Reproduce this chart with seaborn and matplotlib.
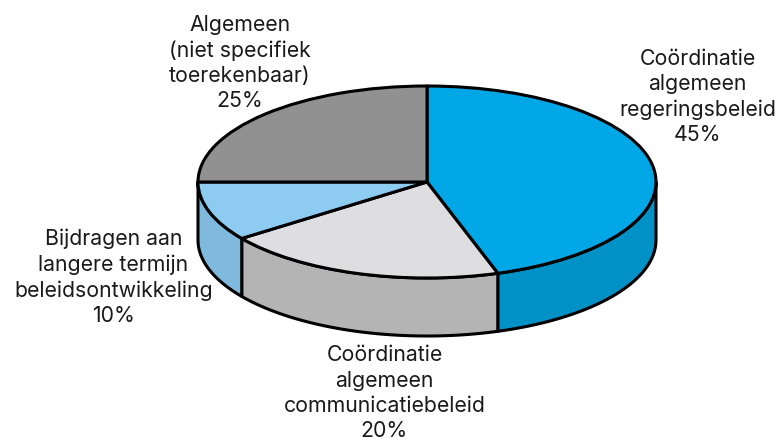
import numpy as np
import matplotlib
matplotlib.use("Agg")
import matplotlib.pyplot as plt
from matplotlib.patches import Polygon
import seaborn as sns

labels = ["Coördinatie\nalgemeen\nregeringsbeleid", "Coördinatie\nalgemeen\ncommunicatiebeleid",
          "Bijdragen aan\nlangere termijn\nbeleidsontwikkeling", "Algemeen\n(niet specifiek\ntoerekenbaar)"]
values = [45, 20, 10, 25]
top_colors = ["#00A7E6", "#DEDEE0", "#8DCBF1", "#919191"]
side_colors = ["#0091C6", "#B5B4B5", "#80B9DE", "#777777"]

W, H = 778, 440
CX, CY, RX, RY, DEPTH = 427, 182, 229, 96, 58
label_pos = [(697.5, 141), (384.5, 437), (113.5, 322), (240, 107)]

sns.set_theme(style="white")
plt.rcParams["font.family"] = ["Inter", "DejaVu Sans"]

fig = plt.figure(figsize=(W / 100, H / 100), dpi=100)
ax = fig.add_axes([0, 0, 1, 1])

# Side walls: only the part of each slice facing the viewer (90..270 deg clockwise from top)
d = DEPTH / RY
edges = np.concatenate([[0], np.cumsum(values)]) / sum(values) * 360
for i in range(len(values)):
    a0, a1 = max(edges[i], 90), min(edges[i + 1], 270)
    if a1 <= a0:
        continue
    t = np.radians(np.linspace(a0, a1, 100))
    x, y = np.sin(t), np.cos(t)
    pts = np.column_stack([np.r_[x, x[::-1]], np.r_[y, y[::-1] - d]])
    ax.add_patch(Polygon(pts, closed=True, facecolor=side_colors[i], edgecolor="black",
                         linewidth=2.2, joinstyle="round"))

# Top face
ax.pie(values, colors=top_colors, startangle=90, counterclock=False, radius=1,
       wedgeprops=dict(edgecolor="black", linewidth=2.2, joinstyle="round"))
ax.set_aspect("auto")
ax.set_xlim(-CX / RX, (W - CX) / RX)
ax.set_ylim((CY - H) / RY, CY / RY)
ax.axis("off")

for lab, v, (px, py) in zip(labels, values, label_pos):
    fig.text(px / W, 1 - py / H, f"{lab}\n{v}%", ha="center", va="baseline", ma="center",
             fontsize=15.3, color="#1a1a1a", linespacing=1.325)

fig.savefig("out.png", dpi=100)
